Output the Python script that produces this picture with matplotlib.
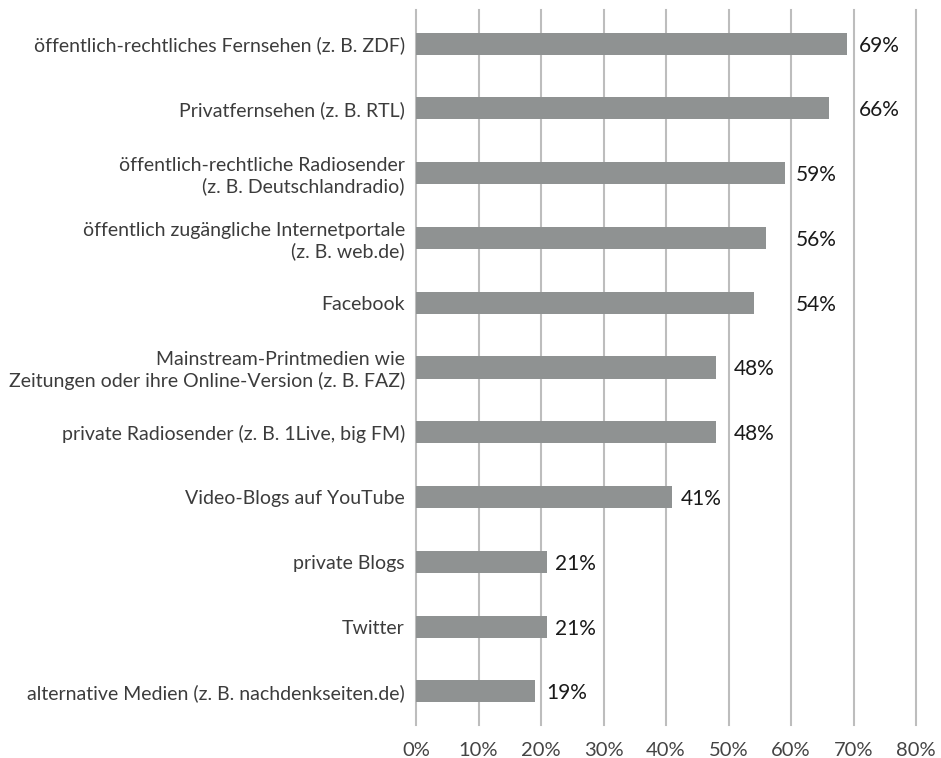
import numpy as np
import matplotlib
matplotlib.use('Agg')
import matplotlib.pyplot as plt

categories = ['öffentlich-rechtliches Fernsehen (z. B. ZDF)',
              'Privatfernsehen (z. B. RTL)',
              'öffentlich-rechtliche Radiosender\n(z. B. Deutschlandradio)',
              'öffentlich zugängliche Internetportale\n(z. B. web.de)',
              'Facebook',
              'Mainstream-Printmedien wie\nZeitungen oder ihre Online-Version (z. B. FAZ)',
              'private Radiosender (z. B. 1Live, big FM)',
              'Video-Blogs auf YouTube',
              'private Blogs',
              'Twitter',
              'alternative Medien (z. B. nachdenkseiten.de)']
values = [69, 66, 59, 56, 54, 48, 48, 41, 21, 21, 19]
ticks = [0, 10, 20, 30, 40, 50, 60, 70, 80]
tick_labels = ['0%', '10%', '20%', '30%', '40%', '50%', '60%', '70%', '80%']

plt.rcParams['font.family'] = ['Lato', 'DejaVu Sans']

fig = plt.figure(figsize=(9.41, 7.58), dpi=100)
ax = fig.add_axes([416/941, 33/758, 500/941, 715/758])

y = np.arange(len(values))
ax.barh(y, values, height=0.34, color='#8f9292', zorder=2)

ax.set_xlim(0, 80)
ax.set_ylim(len(values) - 0.48, -0.52)
ax.set_xticks(ticks)
ax.set_xticklabels(tick_labels, fontsize=14.5, color='#444444')
ax.set_yticks(y)
ax.set_yticklabels(categories, fontsize=14, color='#3c3c3c', linespacing=1.2)
ax.tick_params(axis='both', length=0)
ax.tick_params(axis='x', pad=12)
ax.tick_params(axis='y', pad=8)
for s in ax.spines.values():
    s.set_visible(False)
for t in ticks:
    ax.axvline(t, color='#bdbdbd', lw=1.5, zorder=1, clip_on=False)

# value labels: right of the bar, pushed past a gridline if they would cross it
for i, v in enumerate(values):
    x = v + 1.3
    g = np.ceil(v / 10) * 10
    if x < g + 0.8 and x + 7 > g:
        x = g + 0.8
    ax.text(x, i + 0.03, f'{v}%', va='center', ha='left', fontsize=15,
            color='#1a1a1a')

fig.savefig('out.png', dpi=100)
